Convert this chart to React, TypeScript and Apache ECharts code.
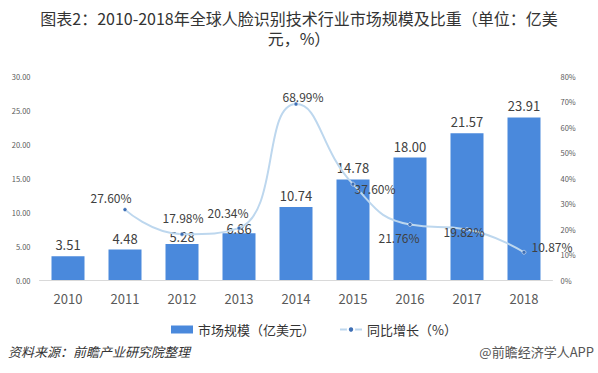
import React, { useEffect, useRef } from "react";
import * as echarts from "echarts";

const years = ["2010", "2011", "2012", "2013", "2014", "2015", "2016", "2017", "2018"];
const marketSize = [3.51, 4.48, 5.28, 6.86, 10.74, 14.78, 18.0, 21.57, 23.91];
const growth: (number | string)[] = ["-", 27.6, 17.98, 20.34, 68.99, 37.6, 21.76, 19.82, 10.87];
const growthLabelOffsets: number[][] = [[0, 0], [-14, -12], [1, -17], [-11, -16], [7, -8], [22, 4], [-11, 13], [-3, 2], [28, -6]];
const barLabelOffsets: number[][] = [[0, 0], [0, 0], [0, 4], [0, 7], [0, 0], [0, 0], [0, 0], [0, 0], [0, 0]];
const leftTicks = [0, 5, 10, 15, 20, 25, 30];
const rightTicks = [0, 10, 20, 30, 40, 50, 60, 70, 80];

const FONT = '"Noto Sans CJK SC", "Noto Sans", sans-serif';

export default function App() {
  const ref = useRef<HTMLDivElement>(null);
  useEffect(() => {
    if (!ref.current) return;
    const chart = echarts.init(ref.current, null, { renderer: "svg" });
    chart.setOption({
      animation: false,
      backgroundColor: "#ffffff",
      textStyle: { fontFamily: FONT },
      legend: {
        left: 166,
        top: 318,
        itemWidth: 22,
        itemHeight: 8,
        itemGap: 24,
        textStyle: { fontSize: 13, color: "#333333", fontFamily: FONT },
        data: [
          { name: "市场规模（亿美元）", icon: "rect" },
          { name: "同比增长（%）" },
        ],
      },
      grid: { left: 39.5, right: 45.5, top: 76, bottom: 93, containLabel: false },
      xAxis: {
        type: "category",
        data: years,
        axisLine: { lineStyle: { color: "#d9d9d9" } },
        axisTick: { show: false },
        axisLabel: { fontSize: 13, color: "#595959", margin: 12 },
      },
      yAxis: [
        {
          type: "value",
          min: leftTicks[0],
          max: leftTicks[leftTicks.length - 1],
          interval: 5,
          splitLine: { show: false },
          axisLine: { show: false },
          axisTick: { show: false },
          axisLabel: { fontSize: 7.5, color: "#595959", margin: 9, formatter: (v: number) => v.toFixed(2) },
        },
        {
          type: "value",
          min: rightTicks[0],
          max: rightTicks[rightTicks.length - 1],
          interval: 10,
          splitLine: { show: false },
          axisLine: { show: false },
          axisTick: { show: false },
          axisLabel: { fontSize: 7.5, color: "#595959", margin: 8, formatter: "{value}%" },
        },
      ],
      series: [
        {
          name: "市场规模（亿美元）",
          type: "bar",
          barWidth: 33,
          itemStyle: { color: "#4a89dc" },
          data: marketSize.map((v, i) => ({
            value: v,
            label: { offset: barLabelOffsets[i] },
          })),
          label: {
            show: true,
            position: "top",
            distance: 5,
            fontSize: 13,
            color: "#404040",
            formatter: (p: any) => Number(p.value).toFixed(2),
          },
          z: 2,
        },
        {
          name: "同比增长（%）",
          type: "line",
          yAxisIndex: 1,
          smooth: 0.5,
          symbol: "circle",
          symbolSize: 4,
          lineStyle: { color: "#bdd7ee", width: 2 },
          itemStyle: { color: "#3e6fb5", borderColor: "#ffffff", borderWidth: 0.5 },
          data: growth.map((v, i) => ({
            value: v,
            label: { offset: growthLabelOffsets[i] },
          })),
          label: {
            show: true,
            position: "inside",
            fontSize: 12,
            color: "#404040",
            formatter: (p: any) => Number(p.value).toFixed(2) + "%",
          },
          z: 3,
        },
      ],
      graphic: [
        {
          type: "text",
          x: 299,
          y: 8,
          style: {
            text: "图表2：2010-2018年全球人脸识别技术行业市场规模及比重（单位：亿美\n元，%）",
            align: "center",
            verticalAlign: "top",
            fontSize: 16,
            lineHeight: 20,
            fill: "#333333",
            fontFamily: FONT,
          },
        },
        {
          type: "text",
          left: 8,
          top: 345,
          style: {
            text: "资料来源：前瞻产业研究院整理",
            fontSize: 13,
            fontStyle: "italic",
            fill: "#333333",
            fontFamily: FONT,
          },
        },
        {
          type: "text",
          right: 4,
          top: 345,
          style: {
            text: "@前瞻经济学人APP",
            fontSize: 13,
            fill: "#555555",
            fontFamily: FONT,
          },
        },
      ],
    });
    return () => chart.dispose();
  }, []);
  return <div ref={ref} style={{ width: 598, height: 373, position: "absolute", left: 0, top: 0 }} />;
}
